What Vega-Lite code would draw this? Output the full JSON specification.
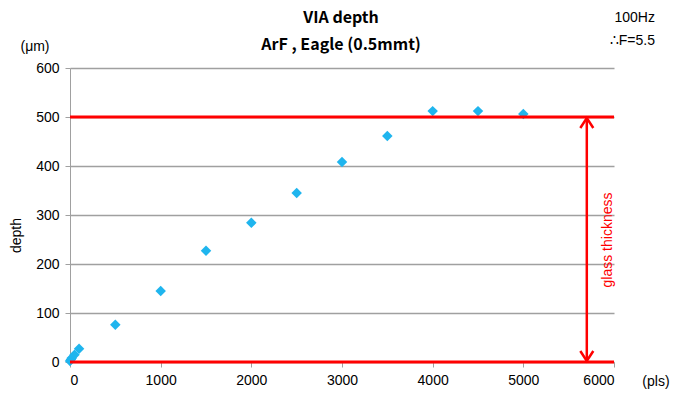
{
  "$schema": "https://vega.github.io/schema/vega-lite/v6.json",
  "width": 544,
  "height": 294,
  "autosize": {"type": "none"},
  "padding": {"left": 70, "top": 68, "right": 62, "bottom": 33},
  "background": "white",
  "config": {
    "view": {"stroke": null},
    "font": "Liberation Sans",
    "axis": {"labelFont": "Liberation Sans", "labelFontSize": 14, "labelFontWeight": "normal", "labelColor": "#000", "titleFont": "Liberation Sans", "titleFontWeight": "normal", "titleColor": "#000"}
  },
  "layer": [
    {
      "data": {
        "values": [
          {"pulses": 0, "depth": 2},
          {"pulses": 10, "depth": 5},
          {"pulses": 20, "depth": 8},
          {"pulses": 50, "depth": 15},
          {"pulses": 100, "depth": 27},
          {"pulses": 500, "depth": 76},
          {"pulses": 1000, "depth": 145},
          {"pulses": 1500, "depth": 227},
          {"pulses": 2000, "depth": 284},
          {"pulses": 2500, "depth": 345},
          {"pulses": 3000, "depth": 408},
          {"pulses": 3500, "depth": 461},
          {"pulses": 4000, "depth": 512},
          {"pulses": 4500, "depth": 512},
          {"pulses": 5000, "depth": 506}
        ]
      },
      "mark": {"type": "point", "shape": "diamond", "filled": true, "size": 110, "color": "#1fb5ee", "opacity": 1},
      "encoding": {
        "x": {
          "field": "pulses", "type": "quantitative",
          "scale": {"domain": [0, 6000], "nice": false},
          "axis": {"values": [0, 1000, 2000, 3000, 4000, 5000, 6000], "format": "d", "grid": false, "title": null, "domainColor": "#a0a0a0", "tickColor": "#a0a0a0", "tickSize": 5, "labelPadding": 6}
        },
        "y": {
          "field": "depth", "type": "quantitative",
          "scale": {"domain": [0, 600], "nice": false},
          "axis": {"values": [0, 100, 200, 300, 400, 500, 600], "format": "d", "grid": true, "gridColor": "#a0a0a0", "gridWidth": 1.5, "domainColor": "#a0a0a0", "tickColor": "#a0a0a0", "tickSize": 5, "labelPadding": 6, "title": "depth", "titleFontSize": 14, "titlePadding": 12, "titleY": 167}
        }
      }
    },
    {
      "data": {"values": [{"line": "bottom", "depth": 0}, {"line": "glass", "depth": 500}]},
      "mark": {"type": "rule", "color": "#ff0000", "strokeWidth": 3},
      "encoding": {"y": {"field": "depth", "type": "quantitative"}}
    },
    {
      "data": {"values": [{"pulses": 5700, "from": 2, "to": 498}]},
      "layer": [
        {
          "mark": {"type": "rule", "color": "#ff0000", "strokeWidth": 2.5},
          "encoding": {"x": {"field": "pulses", "type": "quantitative"}, "y": {"field": "from", "type": "quantitative"}, "y2": {"field": "to"}}
        },
        {
          "mark": {"type": "point", "shape": "M -0.65 1 L 0 0 L 0.65 1", "filled": false, "stroke": "#ff0000", "strokeWidth": 2.5, "size": 400, "opacity": 1},
          "encoding": {"x": {"field": "pulses", "type": "quantitative"}, "y": {"field": "to", "type": "quantitative"}}
        },
        {
          "mark": {"type": "point", "shape": "M -0.65 -1 L 0 0 L 0.65 -1", "filled": false, "stroke": "#ff0000", "strokeWidth": 2.5, "size": 400, "opacity": 1},
          "encoding": {"x": {"field": "pulses", "type": "quantitative"}, "y": {"field": "from", "type": "quantitative"}}
        }
      ]
    },
    {
      "data": {"values": [{"label": "glass thickness", "x": 5934, "y": 249}]},
      "mark": {"type": "text", "angle": 270, "color": "#ff0000", "fontSize": 14, "fontWeight": "normal", "font": "Liberation Sans", "align": "center", "baseline": "middle"},
      "encoding": {"x": {"field": "x", "type": "quantitative"}, "y": {"field": "y", "type": "quantitative"}, "text": {"field": "label"}}
    },
    {
      "data": {"values": [{"label": "(pls)", "x": 6463, "y": -41}, {"label": "(μm)", "x": -386, "y": 643}]},
      "mark": {"type": "text", "fontSize": 14, "fontWeight": "normal", "font": "Liberation Sans", "align": "center", "baseline": "middle", "color": "#000"},
      "encoding": {"x": {"field": "x", "type": "quantitative"}, "y": {"field": "y", "type": "quantitative"}, "text": {"field": "label"}}
    },
    {
      "data": {"values": [{"label": "100Hz", "x": 6452, "y": 702}, {"label": "∴F=5.5", "x": 6452, "y": 655}]},
      "mark": {"type": "text", "fontSize": 14, "fontWeight": "normal", "font": "Liberation Sans", "align": "right", "baseline": "middle", "color": "#000"},
      "encoding": {"x": {"field": "x", "type": "quantitative"}, "y": {"field": "y", "type": "quantitative"}, "text": {"field": "label"}}
    },
    {
      "data": {"values": [{"label": "VIA depth", "x": 2990, "y": 702}, {"label": "ArF , Eagle (0.5mmt)", "x": 2990, "y": 647}]},
      "mark": {"type": "text", "fontSize": 16, "fontWeight": "bold", "font": "Noto Sans CJK JP", "align": "center", "baseline": "middle", "color": "#000"},
      "encoding": {"x": {"field": "x", "type": "quantitative"}, "y": {"field": "y", "type": "quantitative"}, "text": {"field": "label"}}
    }
  ]
}
